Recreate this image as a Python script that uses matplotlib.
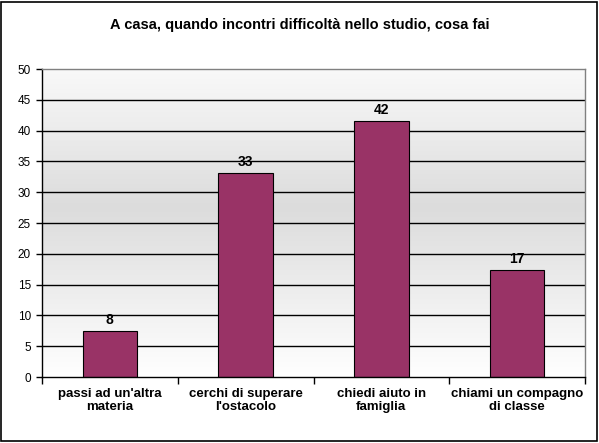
import matplotlib
matplotlib.use("Agg")
import matplotlib.pyplot as plt
import numpy as np
from matplotlib.colors import LinearSegmentedColormap
from matplotlib.patches import Rectangle

categories = ["passi ad un'altra\nmateria", "cerchi di superare\nl'ostacolo",
              "chiedi aiuto in\nfamiglia", "chiami un compagno\ndi classe"]
values = [7.5, 33.1, 41.6, 17.3]
value_labels = ["8", "33", "42", "17"]
yticks = [0, 5, 10, 15, 20, 25, 30, 35, 40, 45, 50]
title = "A casa, quando incontri difficoltà nello studio, cosa fai"

plt.rcParams['font.family'] = ['Liberation Sans', 'DejaVu Sans']

W, H = 599, 443
fig = plt.figure(figsize=(W / 100, H / 100), dpi=100)
fig.patch.set_facecolor('white')

# figure border
fig.add_artist(Rectangle((1 / W, 2 / H), (W - 3) / W, (H - 4) / H, transform=fig.transFigure,
                         fill=False, edgecolor='black', linewidth=1.2))

left, right, top, bottom = 42, 585, 69, 377
ax = fig.add_axes([left / W, 1 - bottom / H, (right - left) / W, (bottom - top) / H])

n = len(categories)
ax.set_xlim(-0.5, n - 0.5)
ax.set_ylim(0, 50)

# gradient background
cmap = LinearSegmentedColormap.from_list('g', [(0, '#ffffff'), (0.55, '#dcdcdc'), (1.0, '#f9f9f9')])
grad = np.linspace(0, 1, 256).reshape(-1, 1)
ax.imshow(grad, extent=(-0.5, n - 0.5, 0, 50), origin='lower', aspect='auto', cmap=cmap, zorder=0)

for y in yticks[1:-1]:
    ax.axhline(y, color='black', linewidth=1, zorder=1)

x = np.arange(n)
ax.bar(x, values, width=0.4, color='#993366', edgecolor='black', linewidth=0.8, zorder=2)
for xi, v, lab in zip(x, values, value_labels):
    ax.annotate(lab, (xi, v), xytext=(0, 3), textcoords='offset points', ha='center', va='bottom',
                fontsize=10, fontweight='bold', zorder=3)

ax.set_yticks(yticks)
ax.set_yticklabels([str(t) for t in yticks], fontsize=8.5)
ax.set_xticks(np.arange(-0.5, n, 1.0), minor=False)
ax.set_xticklabels([])
ax.set_xticks(x, minor=True)
ax.set_xticklabels(categories, minor=True, fontsize=9.5, fontweight='bold', linespacing=1.1)
ax.tick_params(axis='x', which='minor', length=0, pad=8)
ax.tick_params(axis='x', which='major', length=5, width=1, direction='out')
ax.tick_params(axis='y', length=4, width=1, direction='out', pad=4)

ax.spines['left'].set_color('black')
ax.spines['bottom'].set_color('black')
ax.spines['top'].set_color('#808080')
ax.spines['right'].set_color('#808080')
for s in ax.spines.values():
    s.set_linewidth(1)

fig.text(0.5, 1 - 25 / H, title, ha='center', va='center', fontsize=10.5, fontweight='bold')

fig.savefig('out.png', dpi=100)
